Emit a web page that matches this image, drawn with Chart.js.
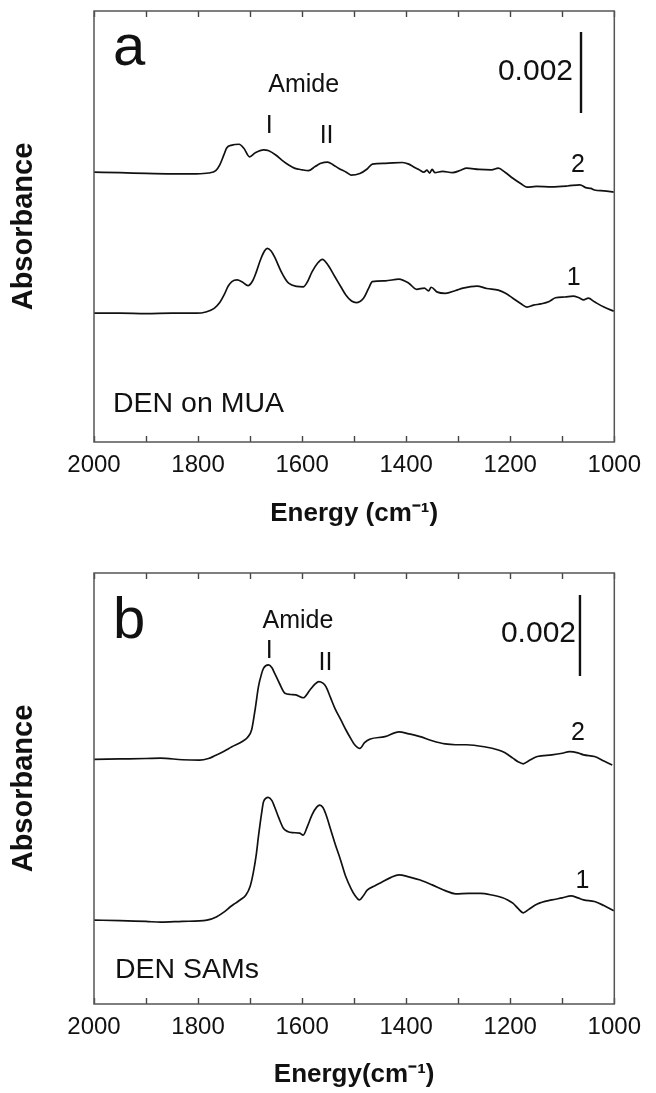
<!DOCTYPE html>
<html><head><meta charset="utf-8">
<script src="https://cdn.jsdelivr.net/npm/chart.js@4.4.1/dist/chart.umd.min.js"></script>
<style>
html,body{margin:0;padding:0;background:#fff;}
#wrap{position:relative;width:656px;height:1093px;overflow:hidden;}
canvas{position:absolute;left:0;}
</style></head><body>
<div id="wrap">
<canvas id="ca" width="656" height="546" style="top:0"></canvas>
<canvas id="cb" width="656" height="547" style="top:546px"></canvas>
</div>
<script>
// ---- Panel a: DEN on MUA (energies in cm^-1, absorbance values) ----
const aEnergy2 = [2000,1950,1900,1850,1803,1780,1766,1758,1750,1745,1735,1721,1712,1701,1690,1674,1664,1650,1639,1625,1615,1600,1588,1575,1564,1551,1540,1530,1515,1506,1489,1475,1465,1440,1407,1395,1387,1375,1366,1360,1355,1350,1345,1330,1311,1295,1284,1260,1236,1223,1210,1195,1180,1168,1150,1120,1090,1066,1055,1045,1038,1020,1001];
const aAbs2 = [0.00666,0.00665,0.00663,0.00662,0.00662,0.00664,0.00670,0.00685,0.00710,0.00726,0.00733,0.00735,0.00725,0.00704,0.00714,0.00721,0.00719,0.00708,0.00696,0.00683,0.00676,0.00672,0.00670,0.00680,0.00688,0.00691,0.00684,0.00676,0.00666,0.00659,0.00663,0.00674,0.00686,0.00688,0.00690,0.00686,0.00680,0.00672,0.00666,0.00671,0.00664,0.00673,0.00665,0.00668,0.00665,0.00671,0.00676,0.00673,0.00672,0.00676,0.00666,0.00651,0.00638,0.00629,0.00631,0.00630,0.00632,0.00635,0.00628,0.00626,0.00622,0.00620,0.00617];
const aEnergy1 = [2000,1950,1900,1850,1803,1785,1769,1758,1750,1742,1735,1725,1715,1704,1695,1688,1680,1672,1667,1660,1653,1640,1632,1626,1610,1598,1590,1581,1570,1561,1552,1537,1525,1516,1505,1496,1482,1472,1465,1440,1414,1395,1380,1365,1357,1352,1340,1325,1305,1291,1264,1245,1223,1210,1195,1180,1168,1155,1141,1125,1113,1095,1079,1068,1059,1050,1038,1020,1001];
const aAbs1 = [0.00318,0.00318,0.00317,0.00318,0.00318,0.00321,0.00330,0.00345,0.00363,0.00385,0.00396,0.00400,0.00395,0.00386,0.00398,0.00420,0.00450,0.00472,0.00478,0.00472,0.00457,0.00420,0.00402,0.00392,0.00384,0.00383,0.00395,0.00420,0.00442,0.00451,0.00440,0.00408,0.00382,0.00363,0.00348,0.00344,0.00355,0.00380,0.00396,0.00398,0.00402,0.00392,0.00377,0.00380,0.00373,0.00382,0.00370,0.00367,0.00374,0.00380,0.00385,0.00379,0.00375,0.00368,0.00355,0.00342,0.00333,0.00338,0.00341,0.00347,0.00356,0.00358,0.00360,0.00356,0.00351,0.00355,0.00346,0.00333,0.00323];
// ---- Panel b: DEN SAMs ----
const bEnergy2 = [2000,1950,1900,1872,1830,1797,1780,1769,1750,1735,1715,1705,1697,1690,1684,1678,1674,1665,1658,1653,1643,1633,1622,1612,1598,1585,1575,1568,1560,1554,1545,1537,1525,1516,1505,1499,1489,1480,1469,1441,1414,1395,1373,1350,1325,1305,1284,1250,1223,1210,1195,1185,1175,1165,1148,1120,1100,1086,1070,1059,1038,1020,1004];
const bAbs2 = [0.00604,0.00605,0.00606,0.00607,0.00603,0.00602,0.00606,0.00612,0.00624,0.00635,0.00648,0.00658,0.00677,0.00730,0.00783,0.00815,0.00829,0.00837,0.00830,0.00817,0.00790,0.00767,0.00764,0.00763,0.00756,0.00775,0.00790,0.00796,0.00792,0.00783,0.00755,0.00730,0.00700,0.00677,0.00652,0.00640,0.00631,0.00645,0.00654,0.00660,0.00672,0.00667,0.00660,0.00650,0.00642,0.00640,0.00640,0.00635,0.00627,0.00620,0.00607,0.00598,0.00593,0.00600,0.00611,0.00615,0.00619,0.00623,0.00620,0.00615,0.00611,0.00600,0.00590];
const bEnergy1 = [2000,1950,1900,1872,1830,1783,1765,1749,1738,1728,1718,1708,1700,1694,1688,1684,1678,1674,1665,1658,1653,1645,1636,1628,1619,1605,1598,1590,1581,1572,1566,1560,1554,1545,1537,1526,1516,1506,1499,1490,1482,1475,1460,1448,1430,1414,1395,1373,1350,1325,1305,1280,1257,1235,1216,1205,1195,1185,1175,1165,1148,1120,1100,1083,1070,1059,1038,1020,1001];
const bAbs1 = [0.00207,0.00206,0.00204,0.00202,0.00204,0.00207,0.00215,0.00228,0.00240,0.00249,0.00258,0.00269,0.00290,0.00323,0.00370,0.00413,0.00470,0.00500,0.00510,0.00502,0.00487,0.00460,0.00434,0.00426,0.00423,0.00422,0.00417,0.00438,0.00467,0.00486,0.00491,0.00485,0.00467,0.00430,0.00397,0.00355,0.00314,0.00285,0.00269,0.00257,0.00268,0.00281,0.00292,0.00300,0.00312,0.00319,0.00314,0.00306,0.00294,0.00280,0.00272,0.00273,0.00273,0.00269,0.00263,0.00257,0.00249,0.00236,0.00225,0.00233,0.00247,0.00257,0.00262,0.00267,0.00262,0.00257,0.00253,0.00243,0.00230];

const xTicksMin = 1000, xTicksMax = 2000, xStep = 100, xLabelEvery = 200;
const yMax = 0.01064;
const scaleBar = 0.002;

const FONT = "'Liberation Sans', Arial, Helvetica, sans-serif";

const framePlugin = {
  id: 'frame',
  afterDatasetsDraw(chart) {
    const {ctx, chartArea: a} = chart;
    ctx.save();
    ctx.strokeStyle = '#555';
    ctx.lineWidth = 1.5;
    ctx.strokeRect(a.left, a.top, a.right - a.left, a.bottom - a.top);
    ctx.restore();
  }
};

const notesPlugin = {
  id: 'notes',
  afterDraw(chart, args, opts) {
    const {ctx} = chart;
    const xs = chart.scales.x, ys = chart.scales.y;
    ctx.save();
    ctx.fillStyle = '#111';
    ctx.textBaseline = 'alphabetic';
    for (const n of opts.texts) {
      ctx.font = n.size + 'px ' + FONT;
      ctx.textAlign = n.align || 'center';
      const px = n.e !== undefined ? xs.getPixelForValue(n.e) : n.x;
      ctx.fillText(n.t, px, n.y);
    }
    // scale bar of 0.002 absorbance
    const b = opts.bar;
    const bx = xs.getPixelForValue(b.e);
    const len = ys.getPixelForValue(0) - ys.getPixelForValue(scaleBar);
    ctx.strokeStyle = '#111';
    ctx.lineWidth = 2.4;
    ctx.beginPath();
    ctx.moveTo(bx, b.top);
    ctx.lineTo(bx, b.top + len);
    ctx.stroke();
    ctx.restore();
  }
};

function series(E, A) {
  return {
    data: E.map((e, i) => ({x: e, y: A[i]})),
    borderColor: '#111', borderWidth: 1.7, pointRadius: 0,
    cubicInterpolationMode: 'monotone', fill: false
  };
}

function makeChart(id, H, frameTop, frameBottom, ds, xTitle, titlePadBottom, notes) {
  const tickFont = {family: FONT, size: 24};
  return new Chart(document.getElementById(id), {
    type: 'line',
    data: {datasets: ds},
    options: {
      responsive: false, animation: false, events: [],
      layout: {padding: {left: 0, right: 34, top: 0, bottom: 0}},
      plugins: {legend: {display: false}, tooltip: {enabled: false}, notes: notes},
      scales: {
        x: {
          type: 'linear', position: 'bottom', reverse: true, min: xTicksMin, max: xTicksMax,
          afterFit(s) { s.height = H - frameBottom; },
          ticks: {stepSize: xStep, autoSkip: false, maxRotation: 0, padding: 15, color: '#111', font: tickFont,
                  callback: v => (v % xLabelEvery === 0 ? String(v) : '')},
          grid: {drawOnChartArea: false, tickLength: -6, tickColor: '#444', tickWidth: 1.4},
          border: {display: false},
          title: {display: true, text: xTitle, color: '#111', font: {family: FONT, size: 26, weight: 'bold'},
                  padding: {top: 0, bottom: titlePadBottom}}
        },
        xTop: {
          type: 'linear', position: 'top', reverse: true, min: xTicksMin, max: xTicksMax,
          afterFit(s) { s.height = frameTop; },
          ticks: {stepSize: xStep, display: false},
          grid: {drawOnChartArea: false, tickLength: -6, tickColor: '#444', tickWidth: 1.4},
          border: {display: false}
        },
        y: {
          type: 'linear', position: 'left', min: 0, max: yMax,
          afterFit(s) { s.width = 94; },
          ticks: {display: false},
          grid: {display: false},
          border: {display: false},
          title: {display: true, text: 'Absorbance', color: '#111', font: {family: FONT, size: 29, weight: 'bold'},
                  padding: {top: 7, bottom: 0}}
        }
      }
    },
    plugins: [framePlugin, notesPlugin]
  });
}

makeChart('ca', 546, 11, 442,
  [series(aEnergy2, aAbs2), series(aEnergy1, aAbs1)],
  'Energy (cm\u207B\u00B9)', 17,
  {texts: [
    {t: 'a', x: 113, y: 65, size: 58, align: 'left'},
    {t: 'Amide', e: 1597, y: 92, size: 25},
    {t: 'I', e: 1663, y: 133, size: 25},
    {t: 'II', e: 1553, y: 143, size: 25},
    {t: '0.002', x: 573, y: 80, size: 30, align: 'right'},
    {t: '2', e: 1070, y: 172, size: 25},
    {t: '1', e: 1078, y: 285, size: 25},
    {t: 'DEN on MUA', x: 113, y: 412, size: 28.5, align: 'left'}
  ], bar: {e: 1064, top: 32}});

makeChart('cb', 547, 27, 458,
  [series(bEnergy2, bAbs2), series(bEnergy1, bAbs1)],
  'Energy(cm\u207B\u00B9)', 3,
  {texts: [
    {t: 'b', x: 113, y: 92, size: 58, align: 'left'},
    {t: 'Amide', e: 1608, y: 82, size: 25},
    {t: 'I', e: 1663, y: 112, size: 25},
    {t: 'II', e: 1555, y: 124, size: 25},
    {t: '0.002', x: 576, y: 96, size: 30, align: 'right'},
    {t: '2', e: 1070, y: 194, size: 25},
    {t: '1', e: 1061, y: 342, size: 25},
    {t: 'DEN SAMs', x: 115, y: 432, size: 28.5, align: 'left'}
  ], bar: {e: 1066, top: 49}});
</script>
</body></html>
